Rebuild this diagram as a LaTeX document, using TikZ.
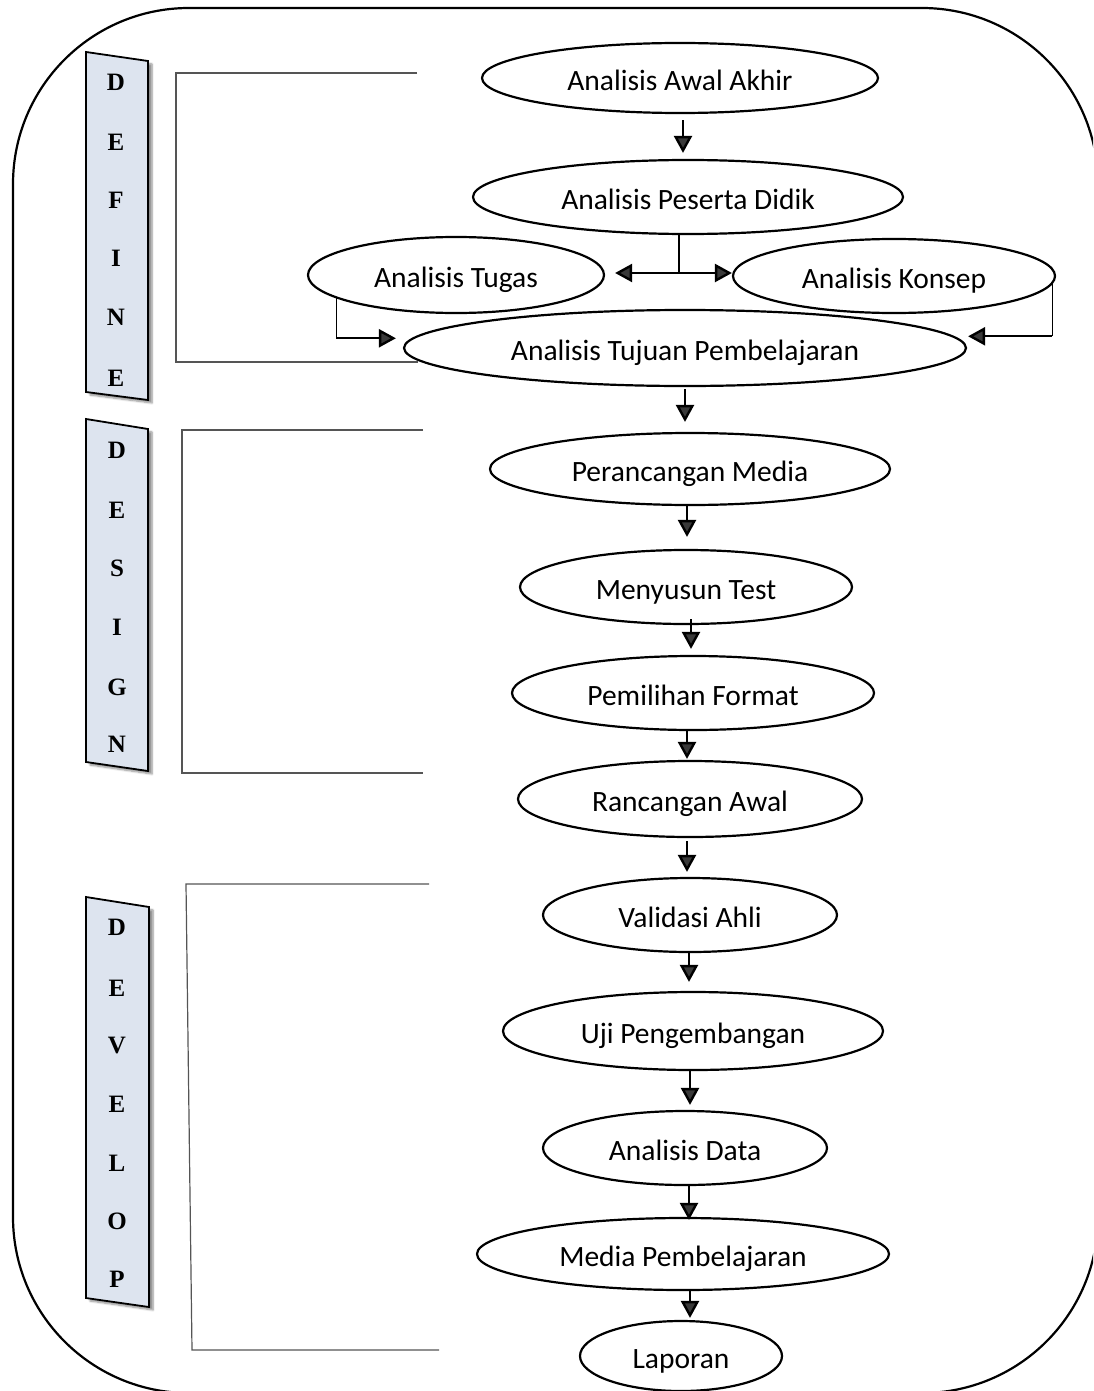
\documentclass[tikz,border=0pt]{standalone}
\usepackage{fontspec}
\setmainfont{Carlito}
\newfontfamily\phasefont{Liberation Serif}
\usetikzlibrary{shapes.geometric,arrows.meta,calc,shadows.blur}
\definecolor{boxfill}{HTML}{DDE4EF}
\definecolor{brkgray}{HTML}{555555}
\begin{document}
\begin{tikzpicture}[x=1pt,y=-1pt,
  stage/.style={draw, line width=2.2pt, ellipse, inner sep=0pt,
    font=\fontsize{29.5}{31}\selectfont, text height=27pt, text depth=2pt},
  arr/.style={line width=2.4pt, -{Triangle[length=17pt,width=18pt]}},
  dblarr/.style={line width=2.4pt, {Triangle[length=17pt,width=18pt]}-{Triangle[length=17pt,width=18pt]}},
  thinline/.style={line width=1.2pt},
  brk/.style={draw=brkgray, line width=1.2pt},
  phasebox/.style={draw, line width=1.8pt, fill=boxfill,
    blur shadow={shadow xshift=4pt, shadow yshift=-3pt, shadow blur steps=6, shadow opacity=45}},
  letter/.style={inner sep=0pt, font=\phasefont\bfseries\fontsize{25}{25}\selectfont}
]
\useasboundingbox (0,0) rectangle (1093,1391);
\clip (0,0) rectangle (1093,1391);

% outer frame
\draw[line width=2.2pt, rounded corners=176pt] (13,8) rectangle (1098,1393);

% phase boxes
\path[phasebox] (86,52) -- (148,61) -- (148,400) -- (86,392) -- cycle;
\path[phasebox] (86,419) -- (148,429) -- (148,771) -- (86,762) -- cycle;
\path[phasebox] (86,897) -- (149,907) -- (149,1307) -- (86,1298) -- cycle;

\foreach \l/\yy [count=\i] in {D/82,E/142,F/200,I/258,N/317,E/378}
  \node[letter] (def\i) at (116,\yy) {\l};
\foreach \l/\yy [count=\i] in {D/450,E/510,S/568,I/627,G/687,N/744}
  \node[letter] (des\i) at (117,\yy) {\l};
\foreach \l/\yy [count=\i] in {D/927,E/988,V/1045,E/1104,L/1163,O/1221,P/1279}
  \node[letter] (dev\i) at (117,\yy) {\l};

% brackets
\draw[brk] (417,73) -- (176,73) -- (176,362) -- (418,362);
\draw[brk] (423,430) -- (182,430) -- (182,773) -- (423,773);
\draw[brk] (429,884) -- (186,884) -- (192,1350) -- (439,1350);

% stages
\node[stage, minimum width=396pt, minimum height=70pt] (aa) at (680,78) {Analisis Awal Akhir};
\node[stage, minimum width=430pt, minimum height=74pt] (pd) at (688,197) {Analisis Peserta Didik};
\node[stage, minimum width=296pt, minimum height=76pt] (tg) at (456,275) {Analisis Tugas};
\node[stage, minimum width=322pt, minimum height=74pt] (ko) at (894,276) {Analisis Konsep};
\node[stage, minimum width=562pt, minimum height=76pt] (tp) at (685,348) {Analisis Tujuan Pembelajaran};
\node[stage, minimum width=400pt, minimum height=72pt] (pm) at (690,469) {Perancangan Media};
\node[stage, minimum width=332pt, minimum height=74pt] (mt) at (686,587) {Menyusun Test};
\node[stage, minimum width=362pt, minimum height=74pt] (pf) at (693,693) {Pemilihan Format};
\node[stage, minimum width=344pt, minimum height=76pt] (ra) at (690,799) {Rancangan Awal};
\node[stage, minimum width=294pt, minimum height=74pt] (va) at (690,915) {Validasi Ahli};
\node[stage, minimum width=380pt, minimum height=78pt] (up) at (693,1031) {Uji Pengembangan};
\node[stage, minimum width=284pt, minimum height=74pt] (ad) at (685,1148) {Analisis Data};
\node[stage, minimum width=412pt, minimum height=72pt] (mp) at (683,1254) {Media Pembelajaran};
\node[stage, minimum width=202pt, minimum height=70pt] (lp) at (681,1356) {Laporan};

% vertical flow arrows
\draw[arr, shorten <=6pt, shorten >=6pt] ([xshift=3pt]aa.south) -- ([xshift=3pt]aa.south |- pd.north);
\draw[arr, shorten <=2pt, shorten >=10pt] (tp.south) -- (tp.south |- pm.north);
\draw[arr, shorten >=12pt] ([xshift=-3pt]pm.south) -- ([xshift=-3pt]pm.south |- mt.north);
\draw[arr, shorten <=-6pt, shorten >=6pt] ([xshift=5pt]mt.south) -- ([xshift=5pt]mt.south |- pf.north);
\draw[arr, shorten >=1pt] ([xshift=-6pt]pf.south) -- ([xshift=-6pt]pf.south |- ra.north);
\draw[arr, shorten <=3pt, shorten >=5pt] ([xshift=-3pt]ra.south) -- ([xshift=-3pt]ra.south |- va.north);
\draw[arr, shorten >=9pt] ([xshift=-1pt]va.south) -- ([xshift=-1pt]va.south |- up.north);
\draw[arr, shorten >=5pt] ([xshift=-3pt]up.south) -- ([xshift=-3pt]up.south |- ad.north);
\draw[arr, shorten >=-3pt] ([xshift=4pt]ad.south) -- ([xshift=4pt]ad.south |- mp.north);
\draw[arr, shorten >=2pt] ([xshift=7pt]mp.south) -- ([xshift=7pt]mp.south |- lp.north);

% Peserta Didik to Tugas / Konsep
\draw[thinline] ([xshift=-9pt]pd.south) -- ([xshift=-9pt,yshift=2pt]pd.south |- tg.east);
\draw[dblarr] ([xshift=10pt,yshift=2pt]tg.east) -- ([yshift=2pt]tg.east -| ko.west);

% Tugas to Tujuan
\coordinate (tgc) at ($(tg.191) + (0,40)$);
\draw[thinline] (tg.191) -- (tgc);
\draw[arr, shorten >=7pt] (tgc) -- (tgc -| tp.west);

% Konsep to Tujuan
\coordinate (koc) at ($(ko.-3) + (0,52)$);
\draw[thinline] (ko.-3) -- (koc);
\draw[arr, shorten >=1pt] (koc) -- (koc -| tp.east);
\end{tikzpicture}
\end{document}
